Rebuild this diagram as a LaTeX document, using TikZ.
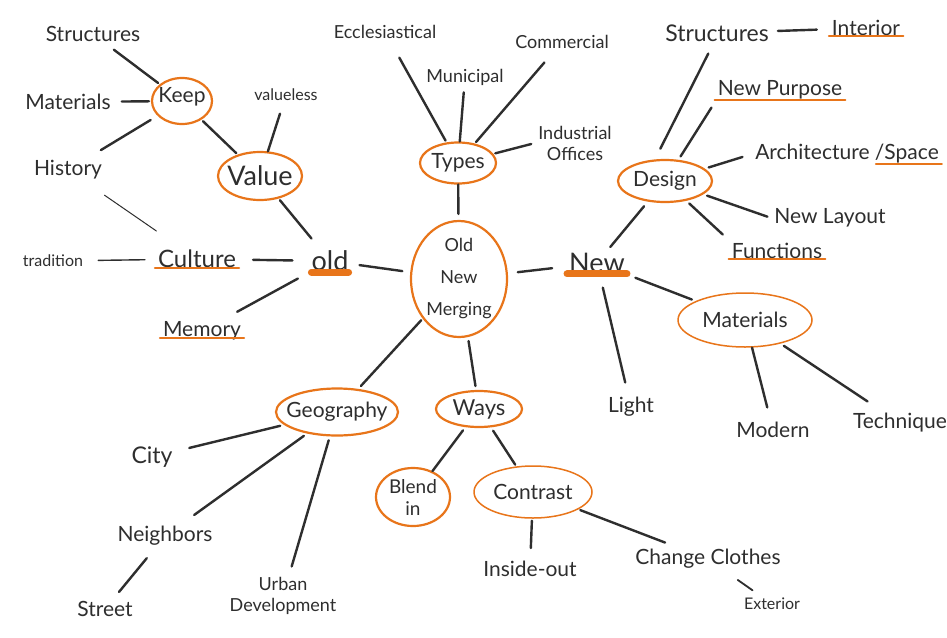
\documentclass[tikz,border=0pt]{standalone}
\usepackage{fontspec}
\setmainfont{Lato}
\usetikzlibrary{shapes.geometric}
\definecolor{ink}{HTML}{2E2E2E}
\definecolor{org}{HTML}{E8751A}
\begin{document}
\begin{tikzpicture}[x=1pt,y=-1pt,
 lbl/.style={font=\fontsize{21}{24}\selectfont,text=ink,inner sep=3pt,align=center},
 small/.style={lbl,font=\fontsize{16}{18}\selectfont},
 mid/.style={lbl,font=\fontsize{18}{21}\selectfont},
 big/.style={lbl,font=\fontsize{27}{29}\selectfont},
 oval/.style={ellipse,draw=org,line width=2.2pt,inner sep=0pt},
 thinoval/.style={oval,line width=1.5pt},
 link/.style={draw=ink,line width=2.4pt,line cap=round,shorten >=8pt,shorten <=8pt},
 uline/.style={draw=org,line width=2pt,line cap=round},
 bar/.style={draw=org,line width=7pt,line cap=round}]
\useasboundingbox[fill=white] (0,0) rectangle (947,637);

% ---------- centre ----------
\node[oval,minimum width=96pt,minimum height=116pt] (c) at (459,279) {};
\node[lbl,font=\fontsize{18}{32}\selectfont] (cT) at (c) {Old\\New\\Merging};

% ---------- old branch ----------
\node[big] (old) at (330,261) {old};
\node[oval,minimum width=60pt,minimum height=46pt] (keepo) at (182,101) {};
\node[lbl] (keep) at (182,97) {Keep};
\node[lbl] (str1) at (93,34) {Structures};
\node[lbl] (mat1) at (68,102) {Materials};
\node[lbl] (hist) at (68,170) {History};
\node[small] (valueless) at (286,95) {valueless};
\node[oval,minimum width=84pt,minimum height=48pt] (value) at (260,176) {};
\node[big] (valueT) at (value) {Value};
\node[lbl,font=\fontsize{24}{26}\selectfont] (cult) at (197,259) {Culture};
\node[small] (trad) at (53,261) {tradition};
\node[lbl] (mem) at (202,331) {Memory};

\draw[bar] ([xshift=3pt,yshift=2pt]old.south west) -- ([xshift=-3pt,yshift=2pt]old.south east);
\draw[uline] ([yshift=3pt]cult.south west) -- ([yshift=3pt]cult.south east);
\draw[uline] ([yshift=6pt]mem.south west) -- ([yshift=6pt]mem.south east);

\draw[link,shorten >=2pt] (str1) -- (keepo);
\draw[link,shorten >=2pt] (mat1) -- (keepo);
\draw[link,shorten <=14pt,shorten >=8pt] (hist) -- (keepo);
\draw[link,shorten <=2pt,shorten >=2pt] (keepo) -- (value);
\draw[link,shorten <=10pt,shorten >=0pt] (valueless) -- (value);
\draw[link,shorten <=2pt,shorten >=12pt] (value) -- (old);
\draw[link,line width=1pt,shorten <=22pt,shorten >=28pt] (hist) -- (cult);
\draw[link,line width=1.4pt,shorten <=12pt,shorten >=10pt] (trad) -- (cult);
\draw[link,shorten <=14pt,shorten >=16pt] (cult) -- (old);
\draw[link,shorten <=8pt,shorten >=8pt] (old) -- (c);
\draw[link,shorten <=14pt,shorten >=12pt] (mem) -- (old);

% ---------- types branch ----------
\node[oval,minimum width=76pt,minimum height=41pt] (types) at (458,163) {};
\node[lbl] (typesT) at (types) {Types};
\node[mid] (eccl) at (385,32) {Ecclesiastical};
\node[mid] (muni) at (465,77) {Municipal};
\node[mid] (comm) at (562,42) {Commercial};
\node[mid] (indu) at (575,143) {Industrial\\Offices};

\draw[link,shorten <=0pt,shorten >=6pt] (types) -- (c);
\draw[link,shorten <=18pt,shorten >=2pt] (eccl) -- (types);
\draw[link,shorten <=4pt,shorten >=0pt] (muni) -- (types);
\draw[link,shorten <=14pt,shorten >=2pt] (comm) -- (types);
\draw[link,shorten <=4pt,shorten >=2pt] (indu.west) -- (types);

% ---------- new branch ----------
\node[big] (new) at (597,263) {New};
\draw[bar] ([xshift=1pt,yshift=2pt]new.south west) -- ([xshift=-1pt,yshift=2pt]new.south east);
\draw[link,shorten <=10pt,shorten >=14pt] (c) -- (new);

\node[oval,minimum width=94pt,minimum height=42pt] (design) at (665,181) {};
\node[lbl] (designT) at (design) {Design};
\node[lbl,font=\fontsize{23}{25}\selectfont] (str2) at (717,33) {Structures};
\node[lbl] (inter) at (866,28) {Interior};
\node[lbl] (npur) at (780,90) {New Purpose};
\node[lbl] (arch) at (847,154) {Architecture /Space};
\node[lbl] (nlay) at (830,218) {New Layout};
\node[lbl] (func) at (777,251) {Functions};
\draw[uline] ([yshift=3pt]inter.south west) -- ([yshift=3pt]inter.south east);
\draw[uline] ([yshift=3pt]npur.south west) -- ([yshift=3pt]npur.south east);
\draw[uline] ([xshift=-66pt,yshift=3pt]arch.south east) -- ([yshift=3pt]arch.south east);
\draw[uline] ([yshift=3pt]func.south west) -- ([yshift=3pt]func.south east);

\draw[link,shorten <=4pt,shorten >=6pt] (new) -- (design);
\draw[link,shorten <=12pt,shorten >=10pt] (design.115) -- (str2.250);
\draw[link,shorten <=4pt,shorten >=6pt] (design) -- (npur.south west);
\draw[link,shorten <=4pt,shorten >=10pt] (design) -- (arch.west);
\draw[link,shorten <=4pt,shorten >=4pt] (design) -- (nlay.west);
\draw[link,shorten <=4pt,shorten >=8pt] (design) -- (func.north west);
\draw[link,shorten <=6pt,shorten >=12pt] (str2) -- (inter);

\node[thinoval,minimum width=134pt,minimum height=54pt] (mat2) at (745,320) {};
\node[lbl] (mat2T) at (mat2) {Materials};
\node[lbl] (light) at (631,407) {Light};
\node[lbl] (modern) at (773,430) {Modern};
\node[lbl] (tech) at (900,423) {Technique};
\draw[link,shorten <=8pt,shorten >=4pt] (new) -- (mat2);
\draw[link,shorten <=12pt,shorten >=12pt] (new) -- (light);
\draw[link,shorten <=0pt,shorten >=12pt] (mat2) -- (modern);
\draw[link,shorten <=4pt,shorten >=16pt] (mat2) -- (tech);

% ---------- geography / ways ----------
\node[oval,minimum width=122pt,minimum height=47pt] (geo) at (337,412) {};
\node[lbl,font=\fontsize{21}{24}\selectfont] (geoT) at (geo) {Geography};
\node[lbl,font=\fontsize{23}{25}\selectfont] (city) at (152,457) {City};
\node[lbl] (neigh) at (165,536) {Neighbors};
\node[lbl] (street) at (105,609) {Street};
\node[mid] (urban) at (283,596) {Urban\\Development};
\draw[link,shorten <=2pt,shorten >=4pt] (c) -- (geo);
\draw[link,shorten <=4pt,shorten >=14pt] (geo) -- (city);
\draw[link,shorten <=4pt,shorten >=14pt] (geo) -- (neigh);
\draw[link,shorten <=4pt,shorten >=8pt] (geo) -- (urban);
\draw[link,shorten <=12pt,shorten >=8pt] (neigh) -- (street);

\node[oval,minimum width=86pt,minimum height=36pt] (ways) at (479,409) {};
\node[lbl,font=\fontsize{22}{24}\selectfont] (waysT) at (ways) {Ways};
\node[oval,minimum width=74pt,minimum height=58pt] (blend) at (413,497) {};
\node[lbl,font=\fontsize{19}{22}\selectfont] (blendT) at (blend) {Blend\\in};
\node[thinoval,minimum width=118pt,minimum height=52pt] (contr) at (533,492) {};
\node[lbl] (contrT) at (contr) {Contrast};
\node[lbl] (inside) at (530,569) {Inside-out};
\node[lbl] (chg) at (708,559) {Change Clothes};
\node[small] (ext) at (772,604) {Exterior};
\draw[link,shorten <=4pt,shorten >=4pt] (c) -- (ways);
\draw[link,shorten <=4pt,shorten >=0pt] (ways) -- (blend);
\draw[link,shorten <=4pt,shorten >=2pt] (ways) -- (contr);
\draw[link,shorten <=2pt,shorten >=10pt] (contr) -- (inside);
\draw[link,shorten <=2pt,shorten >=10pt] (contr) -- (chg);
\draw[link,shorten <=14pt,shorten >=8pt,line width=1.8pt] (chg) -- (ext);
\end{tikzpicture}
\end{document}
